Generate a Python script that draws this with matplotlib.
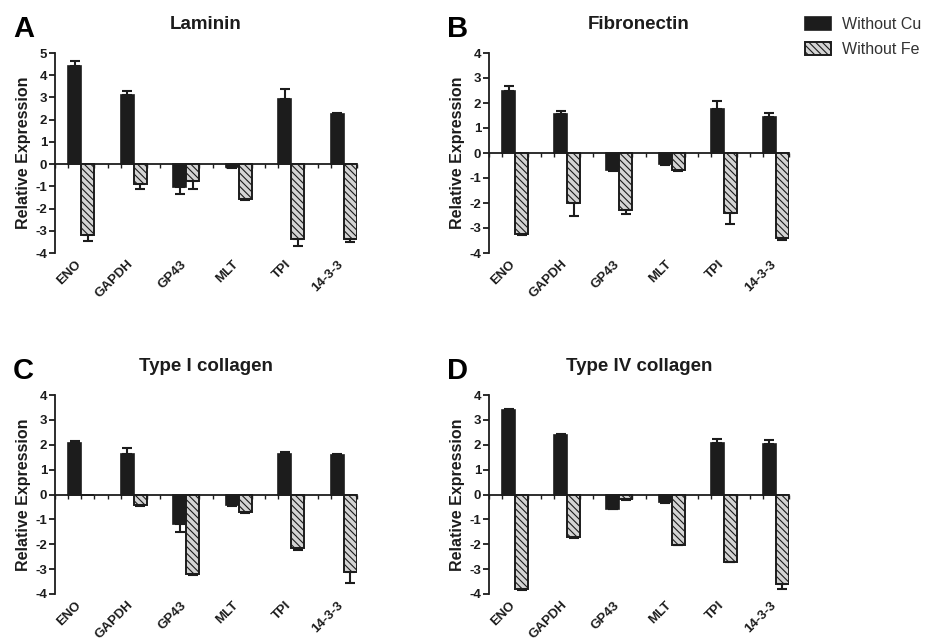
import numpy as np
import matplotlib
matplotlib.use("Agg")
import matplotlib.pyplot as plt
from matplotlib.patches import Patch

plt.rcParams['font.family'] = ['Liberation Sans', 'DejaVu Sans']
plt.rcParams['hatch.linewidth'] = 0.8
plt.rcParams['axes.unicode_minus'] = False

genes = ["ENO", "GAPDH", "GP43", "MLT", "TPI", "14-3-3"]
series = ["Without Cu", "Without Fe"]

# Laminin
lam_cu = [4.43, 3.10, -1.04, -0.15, 2.91, 2.27]
lam_cu_err = [0.23, 0.20, 0.30, 0.03, 0.45, 0.05]
lam_fe = [-3.18, -0.91, -0.78, -1.57, -3.36, -3.39]
lam_fe_err = [0.30, 0.22, 0.35, 0.03, 0.33, 0.10]

# Fibronectin
fib_cu = [2.50, 1.57, -0.67, -0.44, 1.76, 1.43]
fib_cu_err = [0.20, 0.10, 0.05, 0.05, 0.33, 0.17]
fib_fe = [-3.23, -2.00, -2.29, -0.69, -2.40, -3.40]
fib_fe_err = [0.03, 0.53, 0.15, 0.03, 0.43, 0.09]

# Type I collagen
col1_cu = [2.09, 1.62, -1.19, -0.44, 1.62, 1.59]
col1_cu_err = [0.07, 0.23, 0.33, 0.03, 0.07, 0.04]
col1_fe = [0.00, -0.42, -3.20, -0.71, -2.17, -3.10]
col1_fe_err = [0.00, 0.03, 0.03, 0.03, 0.05, 0.47]

# Type IV collagen
col4_cu = [3.39, 2.38, -0.58, -0.31, 2.07, 2.05]
col4_cu_err = [0.05, 0.04, 0.02, 0.02, 0.15, 0.13]
col4_fe = [-3.81, -1.72, -0.20, -2.02, -2.71, -3.61]
col4_fe_err = [0.02, 0.03, 0.02, 0.03, 0.02, 0.17]

panels = [
    ("A", "Laminin", lam_cu, lam_cu_err, lam_fe, lam_fe_err, (-4, 5)),
    ("B", "Fibronectin", fib_cu, fib_cu_err, fib_fe, fib_fe_err, (-4, 4)),
    ("C", "Type I collagen", col1_cu, col1_cu_err, col1_fe, col1_fe_err, (-4, 4)),
    ("D", "Type IV collagen", col4_cu, col4_cu_err, col4_fe, col4_fe_err, (-4, 4)),
]

W, H = 925, 641
# axes boxes in pixels: left, right, top, bottom
boxes = [(55, 357, 53, 253), (489, 789, 53, 253),
         (55, 357, 395, 594), (489, 789, 395, 594)]

dark = "#1c1c1c"
hatch_face = "#d4d4d4"
bw = 0.25

fig = plt.figure(figsize=(W / 100, H / 100), dpi=100)

for (letter, title, cu, cu_err, fe, fe_err, ylim), (l, r, t, b) in zip(panels, boxes):
    ax = fig.add_axes([l / W, 1 - b / H, (r - l) / W, (b - t) / H])
    x = np.arange(len(genes))
    cu = np.array(cu)
    fe = np.array(fe)
    xc = x - bw / 2
    xf = x + bw / 2
    ax.bar(xc, cu, bw, color=dark, edgecolor=dark, linewidth=1.2, zorder=3)
    ax.bar(xf, fe, bw, color=hatch_face, edgecolor=dark, linewidth=1.4,
           hatch="\\\\\\\\\\", zorder=3)
    # one-sided error bars
    for xs, vals, errs in ((xc, cu, cu_err), (xf, fe, fe_err)):
        errs = np.array(errs)
        up = np.where(vals >= 0, errs, 0)
        lo = np.where(vals < 0, errs, 0)
        mask = errs > 0
        ax.errorbar(xs[mask], vals[mask], yerr=[lo[mask], up[mask]], fmt="none",
                    ecolor=dark, elinewidth=1.5, capsize=3.5, capthick=1.5, zorder=4)

    ax.set_xlim(-0.5, 5.25)
    ax.set_ylim(*ylim)
    ax.set_yticks(np.arange(ylim[0], ylim[1] + 1))
    ax.spines["top"].set_visible(False)
    ax.spines["right"].set_visible(False)
    ax.spines["bottom"].set_position(("data", 0))
    for s in ("left", "bottom"):
        ax.spines[s].set_linewidth(1.3)
        ax.spines[s].set_color(dark)
    ax.set_xticks(np.arange(-0.5, 5.26, 0.25))
    ax.set_xticklabels([])
    ax.tick_params(axis="x", direction="out", length=3, width=1.0, color=dark)
    ax.tick_params(axis="y", direction="out", length=4, width=1.3, color=dark,
                   labelsize=9.5, pad=1.5)
    for lab in ax.get_yticklabels():
        lab.set_fontweight("bold")
        lab.set_color(dark)
    for xi, g in zip(x, genes):
        ax.text(xi - 0.12, -0.025, g, transform=ax.get_xaxis_transform(), rotation=45,
                ha="right", va="top", rotation_mode="anchor", fontsize=9.5,
                fontweight="bold", color=dark)
    ax.set_ylabel("Relative Expression", fontsize=11.5, fontweight="bold",
                  color=dark, labelpad=3)
    ax.set_title(title, fontsize=13.5, fontweight="bold", color=dark, pad=17)
    fig.text((l - 42) / W, 1 - (t - 38) / H, letter, fontsize=21,
             fontweight="bold", color="black", ha="left", va="top")

handles = [Patch(facecolor=dark, edgecolor=dark, linewidth=1.2),
           Patch(facecolor=hatch_face, edgecolor=dark, linewidth=1.4,
                 hatch="\\\\\\\\\\")]
leg = fig.legend(handles, series, loc="upper left",
                 bbox_to_anchor=(805 / W, 1 - 17 / H), frameon=False,
                 fontsize=11.5, handlelength=1.6, handleheight=0.85,
                 handletextpad=0.7, labelspacing=0.65, borderpad=0,
                 borderaxespad=0)
for t in leg.get_texts():
    t.set_color("#333333")

fig.savefig("out.png", dpi=100)
